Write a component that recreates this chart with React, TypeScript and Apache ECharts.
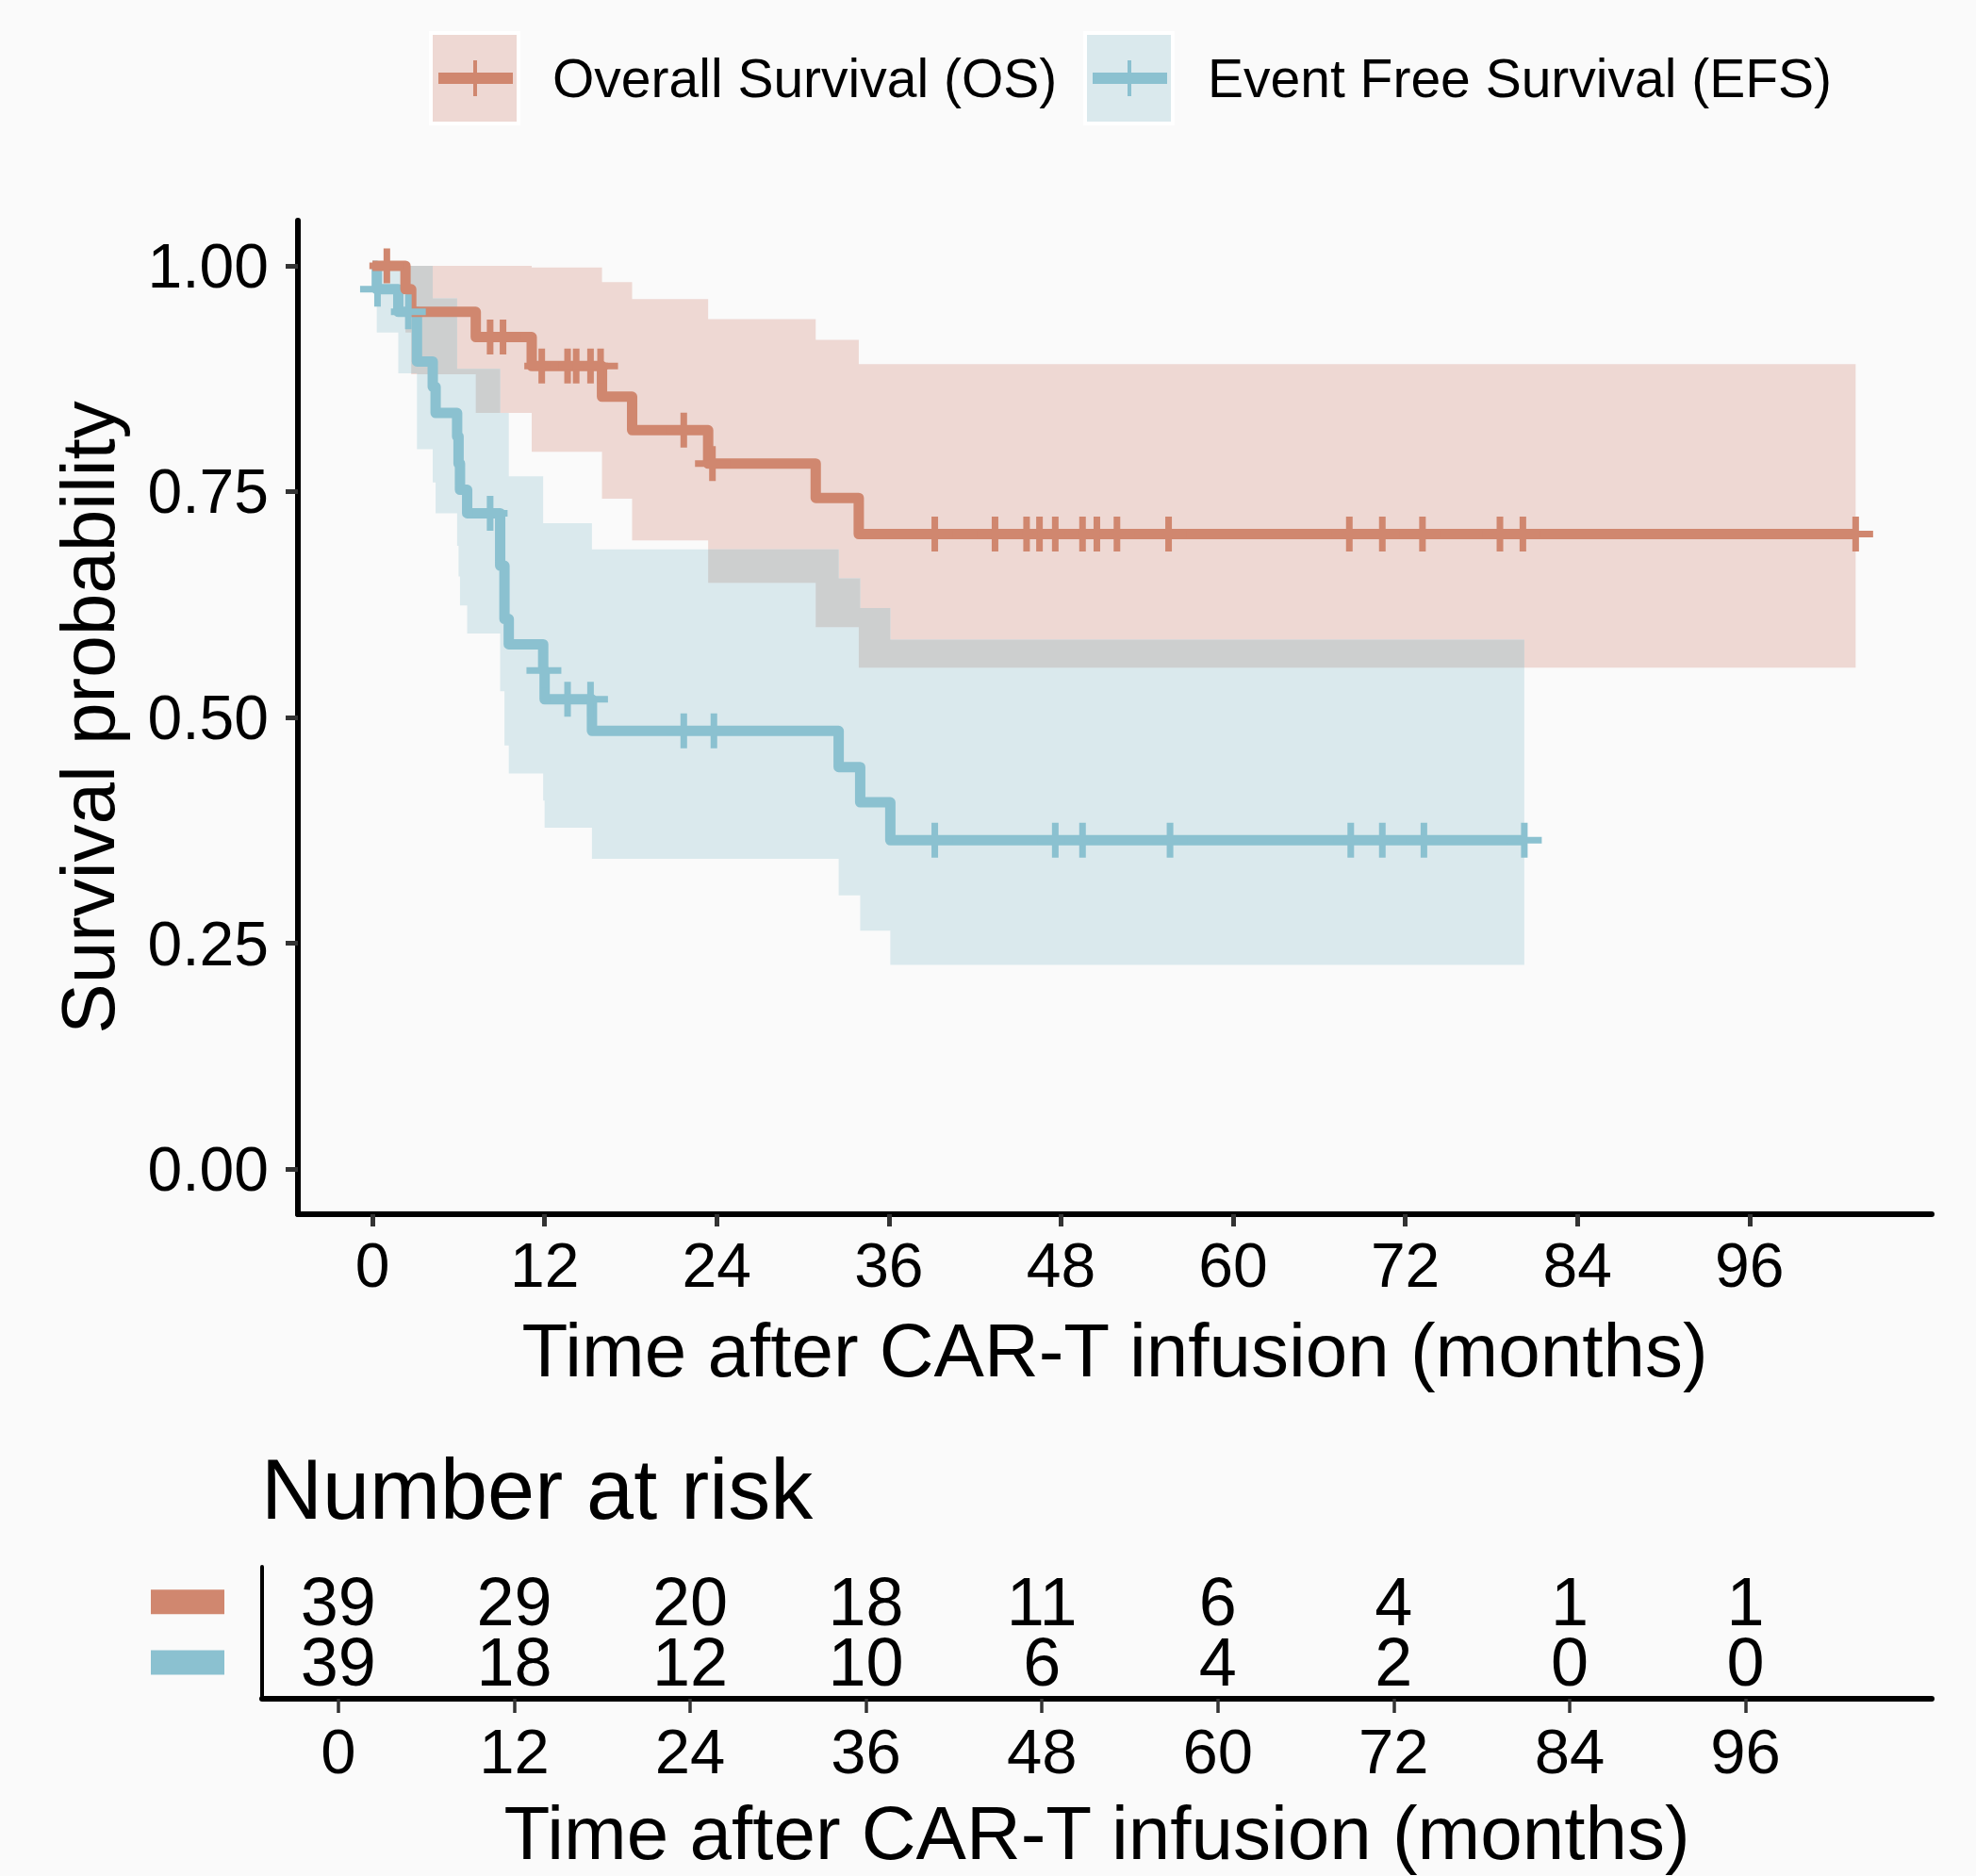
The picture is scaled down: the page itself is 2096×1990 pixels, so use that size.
import React, { useEffect, useRef } from "react";
import * as echarts from "echarts";

// ---------------- data ----------------
const OS_TIME = [0, 2.3, 2.7, 7.2, 11.1, 16.0, 18.1, 23.4, 30.9, 33.9];
const OS_SURV = [1, 0.974, 0.949, 0.921, 0.889, 0.855, 0.818, 0.781, 0.743, 0.703];
const OS_LOWER = [1, 0.926, 0.88, 0.837, 0.794, 0.742, 0.696, 0.649, 0.6, 0.555];
const OS_UPPER = [1, 1, 1, 1, 0.998, 0.982, 0.963, 0.941, 0.918, 0.891];
const OS_END = 103.4;
const OS_CENSOR = [1.0, 8.2, 9.1, 11.8, 13.6, 14.2, 15.2, 15.9, 21.7, 23.7, 39.2, 43.4, 45.6, 46.5, 47.6, 49.5, 50.5, 51.9, 55.5, 68.1, 70.4, 73.2, 78.6, 80.2, 103.4];

const EFS_TIME = [0, 0.3, 1.8, 3.1, 4.2, 4.4, 5.9, 6.0, 6.1, 6.6, 8.9, 9.2, 9.5, 11.9, 12.0, 15.3, 32.5, 34.0, 36.1];
const EFS_SURV = [1, 0.974, 0.949, 0.894, 0.866, 0.837, 0.811, 0.781, 0.752, 0.726, 0.668, 0.609, 0.581, 0.552, 0.52, 0.485, 0.445, 0.406, 0.364];
const EFS_LOWER = [1, 0.926, 0.881, 0.797, 0.76, 0.726, 0.69, 0.656, 0.624, 0.593, 0.529, 0.469, 0.438, 0.408, 0.378, 0.3435, 0.303, 0.264, 0.226];
const EFS_UPPER = [1, 1, 1, 1, 0.964, 0.964, 0.886, 0.886, 0.886, 0.886, 0.837, 0.837, 0.767, 0.715, 0.715, 0.686, 0.654, 0.621, 0.586];
const EFS_END = 80.3;
const EFS_CENSOR = [0.35, 2.5, 8.2, 11.95, 13.6, 15.2, 21.7, 23.8, 39.2, 47.6, 49.5, 55.6, 68.2, 70.4, 73.3, 80.3];

const TICKS_X = [0, 12, 24, 36, 48, 60, 72, 84, 96];
const TICKS_Y = [0, 0.25, 0.5, 0.75, 1];
const RISK_OS = [39, 29, 20, 18, 11, 6, 4, 1, 1];
const RISK_EFS = [39, 18, 12, 10, 6, 4, 2, 0, 0];

const OS_NAME = "Overall Survival (OS)";
const EFS_NAME = "Event Free Survival (EFS)";
const X_TITLE = "Time after CAR-T infusion (months)";
const Y_TITLE = "Survival probability";

// ---------------- style ----------------
const FONT = "'Liberation Sans', Arial, Helvetica, sans-serif";
const C_OS = "#D0876F";
const C_EFS = "#8BC1D0";
const F_OS = "#EED8D3";
const F_EFS = "#DAE9ED";
const F_BOTH = "#CDCFCF";
const PLUS = "path://M15,0H22V15H37V22H22V37H15V22H0V15H15Z";

function stepAt(times: number[], vals: number[], t: number) {
  let v = vals[0];
  for (let i = 0; i < times.length; i++) if (times[i] <= t + 1e-9) v = vals[i];
  return v;
}

function bandPolygon(api: any, times: number[], lo: number[], hi: number[], end: number) {
  const top: number[][] = [];
  const bot: number[][] = [];
  for (let i = 0; i < times.length; i++) {
    const a = times[i];
    const b = i + 1 < times.length ? times[i + 1] : end;
    top.push(api.coord([a, hi[i]]), api.coord([b, hi[i]]));
    bot.push(api.coord([a, lo[i]]), api.coord([b, lo[i]]));
  }
  return top.concat(bot.reverse());
}

function overlapRuns() {
  const pts = Array.from(new Set([...OS_TIME, ...EFS_TIME, OS_END, EFS_END])).sort((a, b) => a - b);
  const runs: number[][][] = [];
  let cur: number[][] | null = null;
  for (let i = 0; i + 1 < pts.length; i++) {
    const a = pts[i], b = pts[i + 1], m = (a + b) / 2;
    const okOS = m >= OS_TIME[0] && m <= OS_END;
    const okE = m >= EFS_TIME[0] && m <= EFS_END;
    let seg: number[] | null = null;
    if (okOS && okE) {
      const lo = Math.max(stepAt(OS_TIME, OS_LOWER, m), stepAt(EFS_TIME, EFS_LOWER, m));
      const hi = Math.min(stepAt(OS_TIME, OS_UPPER, m), stepAt(EFS_TIME, EFS_UPPER, m));
      if (hi > lo) seg = [a, b, lo, hi];
    }
    if (seg) {
      if (!cur) { cur = []; runs.push(cur); }
      cur.push(seg);
    } else cur = null;
  }
  return runs;
}

function runPolygon(api: any, run: number[][]) {
  const top: number[][] = [];
  const bot: number[][] = [];
  run.forEach(([a, b, lo, hi]) => {
    top.push(api.coord([a, hi]), api.coord([b, hi]));
    bot.push(api.coord([a, lo]), api.coord([b, lo]));
  });
  return top.concat(bot.reverse());
}

export default function App() {
  const ref = useRef<HTMLDivElement>(null);
  useEffect(() => {
    if (!ref.current) return;
    const chart = echarts.init(ref.current, null, { renderer: "svg" });
    const runs = overlapRuns();
    const osLine = OS_TIME.map((t, i) => [t, OS_SURV[i]]).concat([[OS_END, OS_SURV[OS_SURV.length - 1]]]);
    const efsLine = EFS_TIME.map((t, i) => [t, EFS_SURV[i]]).concat([[EFS_END, EFS_SURV[EFS_SURV.length - 1]]]);
    const osCens = OS_CENSOR.map((t) => [t, stepAt(OS_TIME, OS_SURV, t)]);
    const efsCens = EFS_CENSOR.map((t) => [t, stepAt(EFS_TIME, EFS_SURV, t)]);
    const riskData: any[] = [];
    TICKS_X.forEach((t, i) => {
      riskData.push([t, 1, RISK_OS[i]]);
      riskData.push([t, 2, RISK_EFS[i]]);
    });

    const axisText = { color: "#000", fontFamily: FONT };
    const option: any = {
      animation: false,
      backgroundColor: "#FAFAFA",
      textStyle: { fontFamily: FONT },
      title: {
        text: "Number at risk",
        left: 272,
        top: 1530,
        textStyle: { fontSize: 90, fontWeight: "normal", color: "#000", fontFamily: FONT },
      },
      grid: [
        { left: 316, top: 234, width: 1733, height: 1054, outerBoundsMode: "none" },
        { left: 278, top: 1662, width: 1771, height: 140, outerBoundsMode: "none" },
      ],
      xAxis: [
        {
          gridIndex: 0, type: "value", min: -5.2, max: 108.7,
          axisLine: { onZero: false, lineStyle: { color: "#000", width: 6 } },
          axisTick: { show: true, length: 13, customValues: TICKS_X, lineStyle: { color: "#333", width: 5 } },
          axisLabel: { customValues: TICKS_X, fontSize: 66, margin: 21, ...axisText },
          splitLine: { show: false },
          name: X_TITLE, nameLocation: "middle", nameGap: 104,
          nameTextStyle: { fontSize: 80, ...axisText },
        },
        {
          gridIndex: 1, type: "value", min: -5.2, max: 108.7,
          axisLine: { onZero: false, lineStyle: { color: "#000", width: 6 } },
          axisTick: { show: true, length: 15, customValues: TICKS_X, lineStyle: { color: "#333", width: 3.5 } },
          axisLabel: { customValues: TICKS_X, fontSize: 67, margin: 22, ...axisText },
          splitLine: { show: false },
          name: X_TITLE, nameLocation: "middle", nameGap: 102,
          nameTextStyle: { fontSize: 80, ...axisText },
        },
      ],
      yAxis: [
        {
          gridIndex: 0, type: "value", min: -0.05, max: 1.05,
          axisLine: { show: true, onZero: false, lineStyle: { color: "#000", width: 6 } },
          axisTick: { show: true, length: 13, customValues: TICKS_Y, lineStyle: { color: "#333", width: 5 } },
          axisLabel: { customValues: TICKS_Y, fontSize: 66, margin: 31, formatter: (v: number) => v.toFixed(2), ...axisText },
          splitLine: { show: false },
          name: Y_TITLE, nameLocation: "middle", nameGap: 183,
          nameTextStyle: { fontSize: 80, ...axisText },
        },
        {
          gridIndex: 1, type: "value", min: 0.42, max: 2.6, inverse: true,
          axisLine: { show: true, onZero: false, lineStyle: { color: "#000", width: 4 } },
          axisTick: { show: false },
          axisLabel: {
            customValues: [1, 2], margin: 40,
            formatter: (v: number) => (v === 1 ? "{os| }" : "{efs| }"),
            rich: {
              os: { backgroundColor: C_OS, width: 78, height: 26 },
              efs: { backgroundColor: C_EFS, width: 78, height: 26 },
            },
          },
          splitLine: { show: false },
        },
      ],
      series: [
        {
          type: "custom", name: "OS CI", xAxisIndex: 0, yAxisIndex: 0, silent: true, z: 1,
          data: [[0, 1]],
          renderItem: (_p: any, api: any) => ({
            type: "polygon",
            shape: { points: bandPolygon(api, OS_TIME, OS_LOWER, OS_UPPER, OS_END) },
            style: { fill: F_OS },
          }),
        },
        {
          type: "custom", name: "EFS CI", xAxisIndex: 0, yAxisIndex: 0, silent: true, z: 2,
          data: [[0, 1]],
          renderItem: (_p: any, api: any) => ({
            type: "polygon",
            shape: { points: bandPolygon(api, EFS_TIME, EFS_LOWER, EFS_UPPER, EFS_END) },
            style: { fill: F_EFS },
          }),
        },
        {
          type: "custom", name: "CI overlap", xAxisIndex: 0, yAxisIndex: 0, silent: true, z: 3,
          data: [[0, 1]],
          renderItem: (_p: any, api: any) => ({
            type: "group",
            children: runs.map((r) => ({
              type: "polygon",
              shape: { points: runPolygon(api, r) },
              style: { fill: F_BOTH },
            })),
          }),
        },
        {
          type: "line", name: EFS_NAME, xAxisIndex: 0, yAxisIndex: 0, z: 4,
          step: "end", data: efsLine, showSymbol: false, symbol: "none",
          lineStyle: { color: C_EFS, width: 11, join: "round", cap: "butt" },
          itemStyle: { color: C_EFS },
        },
        {
          type: "line", name: OS_NAME, xAxisIndex: 0, yAxisIndex: 0, z: 5,
          step: "end", data: osLine, showSymbol: false, symbol: "none",
          lineStyle: { color: C_OS, width: 11, join: "round", cap: "butt" },
          itemStyle: { color: C_OS },
        },
        {
          type: "scatter", name: "EFS censored", xAxisIndex: 0, yAxisIndex: 0, z: 6,
          data: efsCens, symbol: PLUS, symbolSize: 37, itemStyle: { color: C_EFS, opacity: 1 },
        },
        {
          type: "scatter", name: "OS censored", xAxisIndex: 0, yAxisIndex: 0, z: 7,
          data: osCens, symbol: PLUS, symbolSize: 37, itemStyle: { color: C_OS, opacity: 1 },
        },
        {
          type: "custom", name: "Number at risk", xAxisIndex: 1, yAxisIndex: 1, z: 8, silent: true,
          data: riskData,
          renderItem: (_p: any, api: any) => {
            const pt = api.coord([api.value(0), api.value(1)]);
            return {
              type: "text",
              x: pt[0],
              y: pt[1],
              style: {
                text: String(api.value(2)),
                fontSize: 72,
                fontFamily: FONT,
                fill: "#000",
                align: "center",
                verticalAlign: "middle",
              },
            };
          },
        },
      ],
      graphic: [
        { type: "rect", shape: { x: 455, y: 33, width: 97, height: 100 }, style: { fill: "#FFFFFF" } },
        { type: "rect", shape: { x: 459, y: 37, width: 89, height: 92 }, style: { fill: F_OS } },
        { type: "rect", shape: { x: 465, y: 77, width: 79, height: 12 }, style: { fill: C_OS } },
        { type: "rect", shape: { x: 502, y: 64, width: 4, height: 38 }, style: { fill: C_OS } },
        { type: "text", x: 586, y: 83, style: { text: OS_NAME, fontSize: 57, fontFamily: FONT, fill: "#000", verticalAlign: "middle", align: "left" } },
        { type: "rect", shape: { x: 1149, y: 33, width: 97, height: 100 }, style: { fill: "#FFFFFF" } },
        { type: "rect", shape: { x: 1153, y: 37, width: 89, height: 92 }, style: { fill: F_EFS } },
        { type: "rect", shape: { x: 1159, y: 77, width: 79, height: 12 }, style: { fill: C_EFS } },
        { type: "rect", shape: { x: 1196, y: 64, width: 4, height: 38 }, style: { fill: C_EFS } },
        { type: "text", x: 1281, y: 83, style: { text: EFS_NAME, fontSize: 57, fontFamily: FONT, fill: "#000", verticalAlign: "middle", align: "left" } },
      ],
    };
    chart.setOption(option);
    return () => chart.dispose();
  }, []);
  return (
    <div
      ref={ref}
      style={{ position: "absolute", left: 0, top: 0, width: 2096, height: 1990 }}
    />
  );
}
